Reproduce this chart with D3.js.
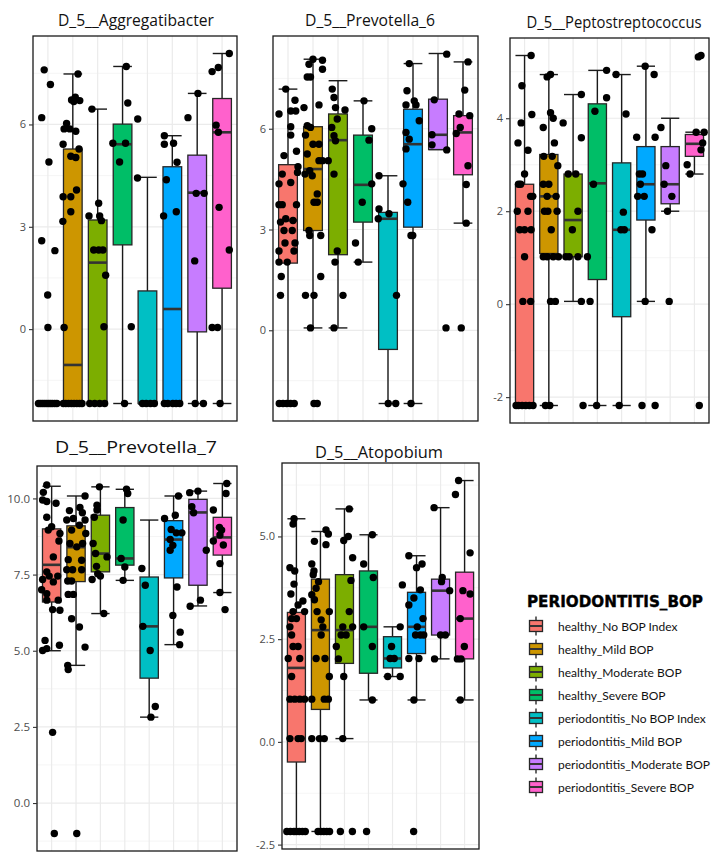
<!DOCTYPE html>
<html><head><meta charset="utf-8">
<script src="https://cdn.jsdelivr.net/npm/d3@7"></script>
<style>body{margin:0;background:#fff;} svg{display:block;}</style>
</head><body><svg id="c" width="716" height="860"></svg>
<script>
// ---------- categories ----------
const groups = ["healthy_No BOP Index","healthy_Mild BOP","healthy_Moderate BOP","healthy_Severe BOP",
  "periodontitis_No BOP Index","periodontitis_Mild BOP","periodontitis_Moderate BOP","periodontitis_Severe BOP"];
const groupColors = ["#F8766D","#CD9600","#7CAE00","#00BE67","#00BFC4","#00A9FF","#C77CFF","#FF61CC"];
const legendTitle = "PERIODONTITIS_BOP";

// ---------- D_5__Aggregatibacter ----------
const aggTicks = [0, 3, 6];
// [lower whisker, q1, median, q3, upper whisker]
const aggBoxes = [
  [-2.18,-2.18,-2.18,-2.18,-2.18],[-2.18,-2.18,-1.05,5.28,7.48],[-2.18,-2.18,1.95,3.2,6.45],[-2.18,2.47,5.42,6.01,7.7],
  [-2.18,-2.18,-2.18,1.12,4.45],[-2.18,-2.18,0.59,4.76,5.67],[-2.18,-0.08,4.0,5.1,6.91],[-2.18,1.2,5.77,6.76,8.08]];
// per group: [value, jitter]
const aggPoints = [
  [[7.6,-0.15],[7.17,0.1],[6.2,-0.25],[4.9,0.04],[2.59,-0.25],[2.3,0.28],[1.0,-0.01],[0.05,0.0],
   [-2.18,-0.38],[-2.18,-0.3],[-2.18,-0.22],[-2.18,-0.14],[-2.18,-0.06],[-2.18,0.02],[-2.18,0.1],[-2.18,0.18],[-2.18,0.27],[-2.18,0.36]],
  [[7.48,0.21],[6.8,0.1],[6.72,-0.05],[6.7,0.28],[6.67,0.04],[6.03,-0.25],[5.87,-0.35],[5.87,-0.12],[5.8,0.12],[5.42,-0.39],
   [5.28,0.25],[5.07,-0.08],[5.03,0.12],[4.08,0.15],[3.88,-0.39],[3.88,-0.08],[3.44,-0.08],[3.16,-0.4],[0.05,-0.35],
   [-2.18,-0.38],[-2.18,-0.28],[-2.18,-0.17],[-2.18,-0.06],[-2.18,0.05],[-2.18,0.16],[-2.18,0.27],[-2.18,0.37]],
  [[6.45,-0.23],[3.69,0.04],[3.32,-0.35],[3.32,0.08],[3.18,0.15],[2.32,-0.16],[2.32,0.04],[2.32,0.21],[1.58,0.32],[0.07,0.25],
   [-2.18,-0.32],[-2.18,-0.12],[-2.18,0.08],[-2.18,0.28]],
  [[7.7,0.15],[6.63,0.21],[5.45,-0.39],[5.45,0.12],[4.9,-0.12],[0.07,0.35],[-2.18,0.08]],
  [[6.16,-0.39],[4.43,-0.4],[-2.18,-0.2],[-2.18,-0.05],[-2.18,0.12],[-2.18,0.28]],
  [[5.67,-0.32],[5.42,-0.32],[5.45,0.05],[4.89,0.19],[4.38,-0.24],[3.32,-0.35],[3.44,0.16],
   [-2.18,-0.32],[-2.18,-0.18],[-2.18,0.02],[-2.18,0.15],[-2.18,0.3]],
  [[6.2,-0.37],[6.91,0.03],[3.98,-0.04],[3.98,0.28],[2.0,-0.1],[-2.18,-0.08],[-2.18,0.25]],
  [[8.08,0.29],[7.67,-0.15],[7.55,-0.4],[5.98,-0.24],[5.77,-0.15],[3.57,-0.12],[2.32,0.29],[0.05,-0.4],[0.05,-0.18],[-2.18,-0.08]]];

// ---------- D_5__Prevotella_6 ----------
const prev6Ticks = [0, 3, 6];
const prev6Boxes = [
  [-2.18,2.0,3.27,4.93,7.18],[0.07,2.97,4.8,6.06,8.07],[0.07,2.25,5.66,6.44,7.43],[2.03,3.22,4.33,5.81,6.83],
  [-2.18,-0.57,3.32,3.51,4.6],[-2.18,3.07,5.54,6.58,7.94],[5.38,5.38,5.82,6.88,8.24],[3.19,4.63,5.89,6.39,7.99]];
const prev6Points = [
  [[7.18,-0.09],[6.85,0.28],[6.44,-0.36],[6.53,0.11],[6.53,0.31],[6.06,0.11],[5.81,0.11],[5.2,-0.16],[5.33,0.34],[4.87,0.4],
   [4.7,0.38],[4.36,-0.36],[4.65,-0.23],[4.4,0.11],[3.74,-0.36],[3.74,-0.23],[3.74,0.34],[3.22,-0.3],[3.32,-0.09],[3.27,0.2],
   [2.97,-0.16],[2.97,0.17],[2.6,-0.12],[2.6,0.28],[2.36,-0.36],[2.36,0.24],[2.03,-0.36],[2.03,-0.03],[1.6,-0.27],[1.04,-0.3],
   [-2.18,-0.35],[-2.18,-0.2],[-2.18,-0.05],[-2.18,0.1],[-2.18,0.25]],
  [[8.07,0.0],[8.04,0.38],[7.92,-0.16],[7.77,0.38],[7.54,-0.23],[7.54,-0.1],[6.71,0.24],[6.63,-0.36],[6.09,-0.23],[6.04,-0.1],
   [5.81,-0.3],[5.54,0.0],[5.54,0.24],[5.25,-0.23],[5.05,0.24],[5.05,0.38],[4.75,-0.13],[4.6,-0.03],[4.65,-0.32],[4.06,0.17],
   [3.81,0.04],[3.81,0.17],[2.97,-0.16],[2.82,-0.13],[2.82,0.31],[1.6,0.31],[1.04,-0.3],[1.04,0.04],[0.07,-0.1],
   [-2.18,0.04],[-2.18,0.17]],
  [[7.18,-0.23],[6.93,-0.16],[6.63,-0.1],[6.56,0.28],[6.29,-0.03],[6.04,-0.25],[5.79,-0.16],[5.64,-0.1],[5.05,-0.39],
   [4.65,-0.16],[2.36,-0.03],[2.03,-0.12],[1.04,0.2],[0.07,-0.16]],
  [[6.83,0.04],[6.0,0.35],[5.66,0.24],[4.36,0.35],[3.81,-0.03],[2.6,-0.3],[2.03,-0.19]],
  [[4.6,-0.36],[3.61,-0.36],[3.32,-0.39],[3.47,0.04],[1.04,0.34],[-2.18,0.01],[-2.18,0.31]],
  [[7.94,-0.15],[7.13,-0.24],[6.83,0.05],[6.71,-0.28],[6.71,0.12],[6.24,0.25],[5.89,-0.28],[5.69,-0.15],[5.4,-0.28],
   [4.36,-0.4],[3.81,-0.21],[2.82,-0.08],[2.82,-0.01],[-2.18,-0.08]],
  [[8.22,0.35],[6.86,-0.15],[5.82,-0.24],[5.52,-0.24],[5.37,0.35],[0.07,0.32]],
  [[7.99,0.2],[7.15,0.07],[6.44,-0.16],[6.39,0.27],[6.04,-0.11],[5.86,-0.27],[4.9,0.2],[4.34,0.13],[3.19,0.13],[0.07,-0.07]]];

// ---------- D_5__Peptostreptococcus ----------
const peptoTicks = [-2, 0, 2, 4];
const peptoBoxes = [
  [-2.18,-2.18,1.6,2.58,5.35],[-2.18,1.09,2.32,3.22,4.94],[0.06,1.02,1.81,2.8,4.51],[-2.18,0.53,2.6,4.31,5.03],
  [-2.18,-0.27,1.6,3.04,4.94],[0.06,1.81,2.58,3.39,5.12],[2.0,2.16,2.58,3.39,4.0],[2.8,3.18,3.45,3.65,3.7]];
const peptoPoints = [
  [[5.35,0.27],[4.7,-0.11],[3.9,-0.14],[4.08,0.3],[3.47,-0.27],[3.31,0.14],[2.8,0.0],[2.58,-0.25],[2.58,-0.16],[2.32,0.25],
   [2.32,0.34],[2.0,-0.3],[2.0,0.14],[1.6,-0.2],[1.6,0.0],[1.6,0.27],[1.02,0.0],[0.06,-0.07],[0.06,0.25],
   [-2.18,-0.35],[-2.18,-0.25],[-2.18,-0.1],[-2.18,0.05],[-2.18,0.2],[-2.18,0.35]],
  [[4.94,0.07],[4.89,-0.07],[3.8,-0.23],[4.12,0.07],[4.0,0.18],[3.47,0.23],[3.18,-0.21],[3.18,0.14],[2.98,0.37],[2.58,-0.23],
   [2.58,0.0],[2.32,-0.07],[2.32,0.3],[2.0,-0.18],[2.0,-0.04],[2.0,0.34],[1.6,0.1],[1.02,-0.23],[1.02,-0.07],[1.02,0.18],
   [1.02,0.4],[0.06,0.07],[0.06,0.27],[-2.18,-0.14],[-2.18,0.04]],
  [[4.51,0.34],[3.9,-0.41],[3.58,0.34],[2.8,-0.2],[2.8,0.11],[2.0,0.2],[1.6,-0.03],[1.02,-0.3],[1.02,-0.16],[1.02,0.2],
   [0.06,0.34],[-2.18,0.41]],
  [[5.03,0.38],[4.44,0.38],[4.15,-0.1],[2.58,-0.16],[1.02,-0.41],[0.06,-0.3],[-2.18,-0.03]],
  [[4.94,-0.23],[4.09,0.18],[1.98,0.07],[1.6,-0.03],[1.6,0.11],[-2.18,-0.1]],
  [[5.12,-0.03],[4.94,0.34],[3.59,-0.38],[3.59,0.38],[2.8,-0.27],[2.8,-0.14],[2.58,-0.23],[2.32,-0.07],[2.32,-0.34],
   [1.6,0.25],[0.06,-0.03],[-2.18,-0.16],[-2.18,0.38]],
  [[3.8,-0.38],[2.98,-0.18],[2.58,-0.25],[2.32,0.07],[2.0,-0.11],[0.06,-0.04]],
  [[5.35,0.27],[5.32,0.16],[3.7,0.07],[3.7,0.4],[3.47,0.34],[3.32,0.27],[3.0,-0.3],[2.8,-0.18],[-2.18,0.2]]];

// ---------- D_5__Prevotella_7 ----------
const prev7Ticks = [0, 2.5, 5, 7.5, 10];
const prev7Boxes = [
  [5.0,6.6,7.82,9.0,10.4],[4.52,7.27,8.4,9.1,10.08],[6.22,7.59,8.19,9.45,10.38],[7.31,7.81,8.03,9.7,10.3],
  [2.82,4.1,5.8,7.42,9.29],[5.2,7.39,8.65,9.27,10.08],[6.47,7.15,9.54,9.97,10.24],[6.91,8.14,8.72,9.38,10.49]];
const prev7Points = [
  [[10.44,-0.2],[10.2,-0.34],[9.95,-0.37],[9.9,-0.2],[9.84,0.18],[9.38,-0.2],[9.07,0.0],[8.96,-0.14],[8.85,0.34],[8.6,0.3],
   [8.08,0.07],[7.59,-0.2],[7.34,-0.37],[7.45,-0.1],[7.0,-0.41],[7.45,0.25],[7.26,0.07],[6.87,-0.2],[6.66,-0.2],[6.66,0.27],
   [6.33,0.34],[6.35,0.04],[5.34,-0.27],[5.01,-0.37],[5.07,-0.2],[5.18,0.32],[2.32,0.04],[-1.0,0.11]],
  [[10.08,0.37],[9.6,-0.27],[9.7,0.16],[9.53,0.26],[9.34,-0.11],[9.29,-0.38],[9.12,0.14],[9.29,0.37],[8.96,-0.18],[8.52,-0.25],
   [8.52,0.27],[8.41,0.03],[8.85,0.4],[7.99,-0.32],[7.97,0.23],[7.66,-0.38],[7.66,-0.14],[7.66,0.23],[7.29,-0.34],[7.29,-0.18],
   [6.85,-0.32],[6.85,-0.11],[6.05,-0.18],[5.78,0.14],[5.12,0.37],[4.52,-0.34],[4.38,-0.32],[-1.0,0.03]],
  [[10.38,-0.04],[9.78,-0.14],[9.38,-0.25],[9.62,-0.14],[8.52,-0.3],[8.19,-0.2],[8.08,0.27],[7.77,-0.16],[7.34,-0.34],
   [7.53,-0.11],[7.45,0.0],[6.22,0.14]],
  [[10.3,0.07],[10.16,0.12],[9.29,-0.07],[8.03,-0.15],[7.75,0.0],[7.31,-0.07]],
  [[7.7,-0.3],[7.15,-0.16],[5.8,-0.26],[5.01,0.04],[3.17,0.25],[2.82,0.07]],
  [[10.08,0.2],[9.34,-0.37],[9.45,0.07],[8.98,-0.1],[8.87,0.11],[8.87,0.34],[8.65,-0.14],[8.46,-0.03],[8.3,-0.14],
   [7.09,0.14],[6.16,-0.03],[5.61,0.27],[5.2,0.25]],
  [[10.19,-0.34],[10.24,0.0],[9.73,-0.25],[9.53,-0.18],[8.3,0.34],[6.46,-0.32],[6.66,0.1]],
  [[10.49,0.18],[10.16,0.15],[9.62,-0.37],[9.05,-0.12],[8.96,-0.03],[8.8,-0.1],[8.6,-0.37],[8.47,0.04],[7.86,-0.1],
   [6.91,-0.1],[6.35,0.11]]];

// ---------- D_5__Atopobium ----------
const atopTicks = [-2.5, 0, 2.5, 5];
const atopBoxes = [
  [-2.18,-0.49,1.8,3.15,5.43],[-2.18,0.79,2.72,3.96,5.12],[0.08,1.91,2.72,4.07,5.67],[1.02,1.67,2.8,4.16,5.04],
  [1.59,1.8,2.03,2.56,2.8],[1.02,2.15,2.8,3.64,4.53],[2.02,2.6,3.68,3.96,5.7],[1.02,2.02,3.0,4.13,6.36]];
const atopPoints = [
  [[5.43,-0.1],[5.3,-0.14],[4.24,-0.27],[4.16,-0.07],[3.84,-0.1],[3.6,-0.23],[3.43,0.27],[3.17,-0.14],[3.33,0.07],[3.17,0.34],
   [3.0,-0.2],[3.0,0.0],[2.8,-0.27],[2.6,-0.2],[2.32,-0.14],[2.32,0.07],[2.03,-0.34],[2.03,0.14],[1.59,-0.2],[1.04,-0.27],
   [1.04,-0.07],[1.04,0.14],[1.04,0.34],[0.08,-0.27],[0.08,0.07],[0.08,0.2],
   [-2.18,-0.4],[-2.18,-0.25],[-2.18,-0.1],[-2.18,0.0],[-2.18,0.12],[-2.18,0.25],[-2.18,0.37]],
  [[5.16,0.23],[5.06,0.33],[4.88,-0.25],[4.8,0.23],[4.33,-0.36],[4.16,-0.27],[4.07,-0.3],[3.9,-0.08],[3.74,-0.18],[3.58,-0.36],
   [3.46,-0.25],[3.17,-0.14],[3.17,0.37],[2.97,0.03],[2.8,0.1],[2.6,0.03],[2.03,0.19],[2.03,-0.18],[1.59,0.37],[1.04,-0.36],
   [1.04,0.16],[1.04,0.33],[0.08,-0.36],[0.08,-0.04],[0.08,0.16],
   [-2.18,-0.1],[-2.18,0.02],[-2.18,0.14],[-2.18,0.26],[-2.18,0.38]],
  [[5.67,0.2],[5.0,0.16],[4.9,-0.03],[4.48,0.34],[3.93,0.27],[3.17,0.2],[2.32,-0.34],[2.8,-0.07],[2.8,0.34],[2.6,-0.14],
   [2.6,0.07],[2.02,-0.25],[1.59,-0.03],[0.08,-0.07],[-2.18,-0.17],[-2.18,0.33]],
  [[5.04,0.16],[4.33,-0.2],[4.0,0.2],[2.8,-0.2],[2.32,0.16],[1.02,0.16],[-2.18,-0.08]],
  [[2.8,0.32],[2.32,-0.04],[2.03,-0.1],[2.03,0.07],[1.59,-0.2],[1.59,0.32],[3.82,0.41]],
  [[4.53,-0.32],[4.33,0.23],[4.24,0.0],[3.7,0.16],[3.5,-0.11],[3.33,-0.32],[3.0,0.27],[2.8,0.03],[2.6,-0.04],[2.6,0.16],
   [2.6,0.3],[2.03,-0.32],[2.03,0.1],[1.02,-0.11],[-2.18,-0.12]],
  [[5.7,-0.27],[4.0,0.07],[3.9,0.04],[3.68,0.38],[2.6,0.0],[2.6,0.2],[2.02,-0.25]],
  [[6.36,-0.25],[6.02,-0.38],[4.6,0.23],[3.68,-0.07],[3.6,0.23],[3.0,-0.18],[2.32,-0.01],[2.02,-0.3],[2.02,-0.15],[1.02,-0.18]]];

// ---------- layout ----------
const loc = d3.formatLocale({decimal:".", thousands:",", grouping:[3], currency:["",""], minus:"-"});
const panels = [
  {title:"D_5__Aggregatibacter", boxes:aggBoxes, points:aggPoints, ticks:aggTicks, fmt:loc.format("d"), x0:33, x1:237, y0:36, y1:421, tx:136, ty:26, tw:156, fs:15.5, ts:11},
  {title:"D_5__Prevotella_6", boxes:prev6Boxes, points:prev6Points, ticks:prev6Ticks, fmt:loc.format("d"), x0:273, x1:478, y0:36, y1:421, tx:370, ty:26, tw:130, fs:15.5, ts:11},
  {title:"D_5__Peptostreptococcus", boxes:peptoBoxes, points:peptoPoints, ticks:peptoTicks, fmt:loc.format("d"), x0:510, x1:709, y0:38, y1:423, tx:614, ty:28, tw:175, fs:15.5, ts:11},
  {title:"D_5__Prevotella_7", boxes:prev7Boxes, points:prev7Points, ticks:prev7Ticks, fmt:loc.format(".1f"), x0:37, x1:237, y0:466, y1:851, tx:136, ty:453, tw:162, fs:17, ts:11.5},
  {title:"D_5__Atopobium", boxes:atopBoxes, points:atopPoints, ticks:atopTicks, fmt:loc.format(".1f"), x0:282, x1:479, y0:463, y1:849, tx:379, ty:458, tw:128, fs:16, ts:11}
];

const svg = d3.select("#c");
svg.append("rect").attr("width",716).attr("height",860).attr("fill","#fff");
const FONT = "'Open Sans', 'Noto Sans', sans-serif";

panels.forEach(p => {
  const allVals = p.points.flat().map(d => d[0]).concat(p.boxes.flat());
  const [mn, mx] = d3.extent(allVals);
  const pad = (mx - mn) * 0.05;
  const y = d3.scaleLinear().domain([mn - pad, mx + pad]).range([p.y1, p.y0]);
  const x = d3.scalePoint().domain(groups).range([p.x0, p.x1]).padding(0.6);
  const step = x.step();
  const g = svg.append("g");

  // grid
  const stepT = p.ticks[1] - p.ticks[0];
  const minor = [];
  for (let m = p.ticks[0] - stepT/2; m <= y.domain()[1]; m += stepT) if (m >= y.domain()[0]) minor.push(m);
  g.selectAll(".mn").data(minor).join("line")
    .attr("x1",p.x0).attr("x2",p.x1).attr("y1",d=>y(d)).attr("y2",d=>y(d))
    .attr("stroke","#F2F2F2").attr("stroke-width",0.8);
  g.selectAll(".mj").data(p.ticks).join("line")
    .attr("x1",p.x0).attr("x2",p.x1).attr("y1",d=>y(d)).attr("y2",d=>y(d))
    .attr("stroke","#EBEBEB").attr("stroke-width",1.2);
  g.selectAll(".vg").data(groups).join("line")
    .attr("x1",d=>x(d)).attr("x2",d=>x(d)).attr("y1",p.y0).attr("y2",p.y1)
    .attr("stroke","#EBEBEB").attr("stroke-width",1.2);

  const bw = step * 0.75;
  const bx = g.selectAll(".bx").data(p.boxes).join("g");
  bx.append("line").attr("x1",(d,i)=>x(groups[i])).attr("x2",(d,i)=>x(groups[i]))
    .attr("y1",d=>y(d[0])).attr("y2",d=>y(d[4])).attr("stroke","#1a1a1a").attr("stroke-width",1.4);
  [0,4].forEach(k => {
    bx.append("line").attr("x1",(d,i)=>x(groups[i])-bw/2).attr("x2",(d,i)=>x(groups[i])+bw/2)
      .attr("y1",d=>y(d[k])).attr("y2",d=>y(d[k])).attr("stroke","#1a1a1a").attr("stroke-width",1.4);
  });
  bx.append("rect").attr("x",(d,i)=>x(groups[i])-bw/2).attr("width",bw)
    .attr("y",d=>y(d[3])).attr("height",d=>y(d[1])-y(d[3]))
    .attr("fill",(d,i)=>groupColors[i]).attr("stroke","#262626").attr("stroke-width",1.3);
  bx.append("line").attr("x1",(d,i)=>x(groups[i])-bw/2).attr("x2",(d,i)=>x(groups[i])+bw/2)
    .attr("y1",d=>y(d[2])).attr("y2",d=>y(d[2])).attr("stroke","#333").attr("stroke-width",2.6);

  const pts = p.points.flatMap((arr,i) => arr.map(d => ({g:groups[i], v:d[0], j:d[1]})));
  g.selectAll(".pt").data(pts).join("circle")
    .attr("cx",d=>x(d.g)+d.j*step).attr("cy",d=>y(d.v)).attr("r",3.7).attr("fill","#000");

  g.append("rect").attr("x",p.x0).attr("y",p.y0).attr("width",p.x1-p.x0).attr("height",p.y1-p.y0)
    .attr("fill","none").attr("stroke","#1a1a1a").attr("stroke-width",1.3);

  const ax = g.append("g").attr("transform",`translate(${p.x0},0)`)
    .call(d3.axisLeft(y).tickValues(p.ticks).tickSize(4).tickPadding(3).tickFormat(p.fmt));
  ax.select(".domain").remove();
  ax.selectAll("line").attr("stroke","#333").attr("stroke-width",1.1);
  ax.selectAll("text").attr("fill","#4D4D4D").style("font-family",FONT).style("font-size",p.ts+"px");

  g.append("text").attr("x",p.tx).attr("y",p.ty).attr("text-anchor","middle")
    .attr("textLength",p.tw).attr("lengthAdjust","spacingAndGlyphs")
    .style("font-family",FONT).style("font-size",p.fs+"px").attr("fill","#111").text(p.title);
});

// legend
const lg = svg.append("g");
lg.append("text").attr("x",527).attr("y",607).text(legendTitle)
  .style("font-family","'DejaVu Sans', sans-serif").style("font-weight","900").style("font-size","15.5px")
  .attr("textLength",176).attr("lengthAdjust","spacingAndGlyphs").attr("fill","#000")
  .attr("stroke","#000").attr("stroke-width",0.4);
const rows = lg.selectAll(".lr").data(groups).join("g")
  .attr("transform",(d,i)=>`translate(0,${626 + i*23})`);
rows.append("line").attr("x1",536).attr("x2",536).attr("y1",-9.5).attr("y2",9.5).attr("stroke","#1a1a1a").attr("stroke-width",1.3);
rows.append("rect").attr("x",529.5).attr("y",-5.5).attr("width",13).attr("height",11)
  .attr("fill",(d,i)=>groupColors[i]).attr("stroke","#262626").attr("stroke-width",1.3);
rows.append("line").attr("x1",529.5).attr("x2",542.5).attr("y1",0).attr("y2",0).attr("stroke","#333").attr("stroke-width",2);
rows.append("text").attr("x",558).attr("y",4.5).text(d=>d)
  .style("font-family","Lato, 'Open Sans', sans-serif").style("font-size","12px").attr("fill","#111");
</script></body></html>
